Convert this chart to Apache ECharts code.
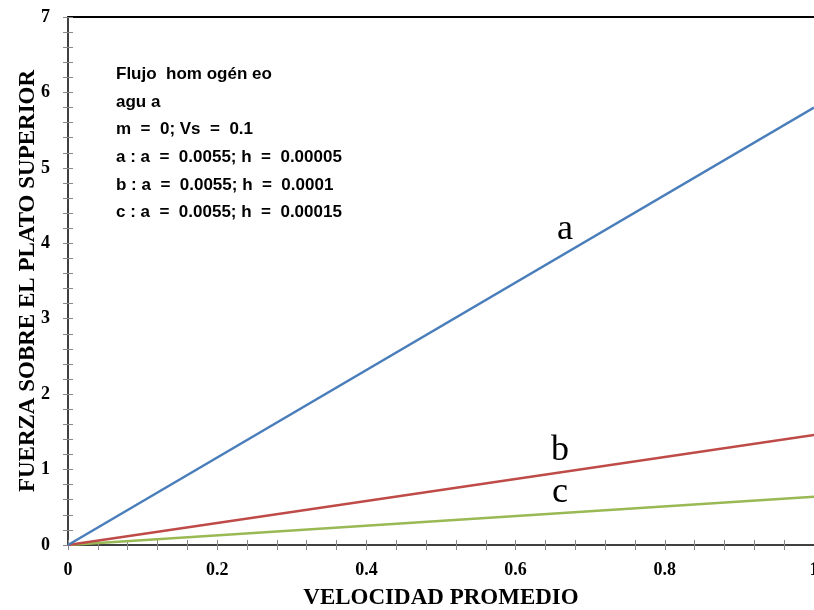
<!DOCTYPE html>
<html><head><meta charset="utf-8">
<script src="https://cdn.jsdelivr.net/npm/echarts@6/dist/echarts.min.js"></script>
<style>html,body{margin:0;padding:0;background:#fff}#c{width:814px;height:610px}</style>
</head><body><div id="c"></div>
<script>
const xValues = [0, 1];
const seriesA = [0, 5.8];
const seriesB = [0, 1.46];
const seriesC = [0, 0.64];
const seriesNames = ['a', 'b', 'c'];
const noteLines = [
  'Flujo  hom ogén eo',
  'agu a',
  'm  =  0; Vs  =  0.1',
  'a : a  =  0.0055; h  =  0.00005',
  'b : a  =  0.0055; h  =  0.0001',
  'c : a  =  0.0055; h  =  0.00015'
];
const xTitle = 'VELOCIDAD PROMEDIO';
const yTitle = 'FUERZA SOBRE EL PLATO SUPERIOR';

const serif = '"Liberation Serif", "Times New Roman", serif';
const chart = echarts.init(document.getElementById('c'), null, {renderer: 'canvas'});
const toPairs = arr => xValues.map((x, i) => [x, arr[i]]);
const colors = ['#4a7ebb', '#be4b48', '#98b954'];

const tickStyle = {color: '#888', width: 1};
const baseX = {
  type: 'value', min: 0, max: 1, interval: 0.2,
  splitLine: {show: false}
};
const baseY = {
  type: 'value', min: 0, max: 7, interval: 1,
  splitLine: {show: false}
};

chart.setOption({
  animation: false,
  grid: {left: 68, right: 0, top: 17, bottom: 65, containLabel: false, outerBoundsMode: 'none'},
  xAxis: [
    Object.assign({}, baseX, {
      position: 'bottom',
      name: xTitle, nameLocation: 'middle', nameGap: 42, nameMoveOverlap: false,
      nameTextStyle: {fontFamily: serif, fontWeight: 'bold', fontSize: 23, color: '#000'},
      axisLine: {show: true, onZero: false, lineStyle: {color: '#404040', width: 2}},
      axisTick: {show: true, length: 5, lineStyle: tickStyle},
      minorTick: {show: true, splitNumber: 5, length: 5, lineStyle: tickStyle},
      axisLabel: {margin: 16, fontFamily: serif, fontWeight: 'bold', fontSize: 18, color: '#000',
        formatter: v => String(+v.toFixed(1))}
    }),
    Object.assign({}, baseX, {
      position: 'bottom',
      axisLine: {show: false, onZero: false},
      axisTick: {show: true, inside: true, length: 5, lineStyle: tickStyle},
      minorTick: {show: true, splitNumber: 5, length: 5, lineStyle: tickStyle},
      axisLabel: {show: false}
    }),
    Object.assign({}, baseX, {
      position: 'top',
      axisLine: {show: true, onZero: false, lineStyle: {color: '#000', width: 2}},
      axisTick: {show: false}, minorTick: {show: false},
      axisLabel: {show: false}
    })
  ],
  yAxis: [
    Object.assign({}, baseY, {
      position: 'left',
      name: yTitle, nameLocation: 'middle', nameGap: 28, nameMoveOverlap: false,
      nameTextStyle: {fontFamily: serif, fontWeight: 'bold', fontSize: 23, color: '#000'},
      axisLine: {show: true, onZero: false, lineStyle: {color: '#404040', width: 2}},
      axisTick: {show: true, length: 5, lineStyle: tickStyle},
      minorTick: {show: true, splitNumber: 5, length: 5, lineStyle: tickStyle},
      axisLabel: {margin: 18, fontFamily: serif, fontWeight: 'bold', fontSize: 18, color: '#000'}
    }),
    Object.assign({}, baseY, {
      position: 'left',
      axisLine: {show: false, onZero: false},
      axisTick: {show: true, inside: true, length: 5, lineStyle: tickStyle},
      minorTick: {show: true, splitNumber: 5, length: 5, lineStyle: tickStyle},
      axisLabel: {show: false}
    })
  ],
  series: [seriesA, seriesB, seriesC].map((d, i) => ({
    name: seriesNames[i], type: 'line', data: toPairs(d),
    showSymbol: false, symbol: 'none',
    lineStyle: {color: colors[i], width: 2.5}, z: 3 - i + 2
  })),
  graphic: [
    ...noteLines.map((t, i) => ({
      type: 'text', left: 116, top: 66 + i * 27.6,
      style: {text: t, fontFamily: '"Liberation Sans", Arial, sans-serif', fontWeight: 'bold', fontSize: 17, fill: '#000'}
    })),
    {type: 'text', left: 557, top: 212, style: {text: 'a', fontFamily: serif, fontSize: 36, fill: '#000'}},
    {type: 'text', left: 551, top: 433, style: {text: 'b', fontFamily: serif, fontSize: 36, fill: '#000'}},
    {type: 'text', left: 552, top: 475, style: {text: 'c', fontFamily: serif, fontSize: 36, fill: '#000'}}
  ]
});
</script></body></html>
